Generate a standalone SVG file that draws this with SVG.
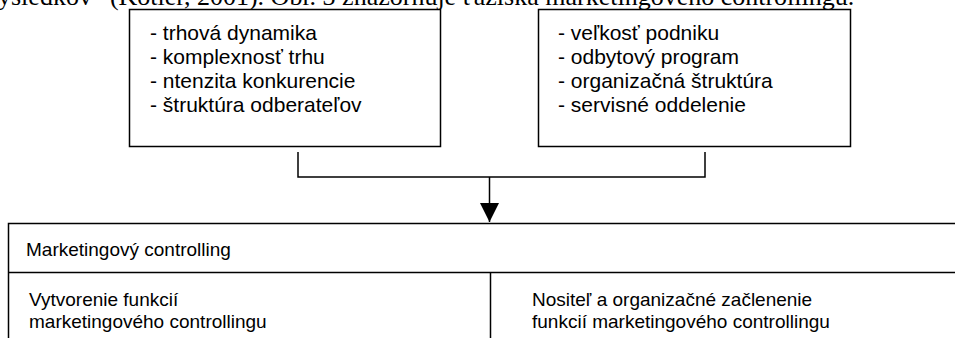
<svg xmlns="http://www.w3.org/2000/svg" width="955" height="338" viewBox="0 0 955 338">
<style>
.box{fill:#fff;stroke:#000;stroke-width:1.5}
.ln{fill:none;stroke:#000;stroke-width:1.5}
.t{font-family:"Liberation Sans",Arial,sans-serif;font-size:21px;fill:#000}
.b{font-family:"Liberation Sans",Arial,sans-serif;font-size:19px;fill:#000}
.top{font-family:"Liberation Serif","Times New Roman",serif;font-size:26px;fill:#000}
</style>
<defs>
<marker id="ah" markerWidth="20" markerHeight="19" refX="20" refY="10" orient="auto" markerUnits="userSpaceOnUse" viewBox="0 0 20 20">
<path d="M0,0 L20,10 L0,20 Z" fill="#000"/>
</marker>
</defs>
<rect width="955" height="338" fill="#fff"/>
<text class="top" x="-15" y="5">výsledkov“ (Kotler, 2001). Obr. 3 znázorňuje ťažiská marketingového controllingu.</text>
<g id="external">
<rect class="box" x="129.5" y="9.5" width="311" height="137"/>
<text class="t" x="150" y="40">- trhová dynamika</text>
<text class="t" x="150" y="64">- komplexnosť trhu</text>
<text class="t" x="150" y="88">- ntenzita konkurencie</text>
<text class="t" x="150" y="112">- štruktúra odberateľov</text>
</g>
<g id="internal">
<rect class="box" x="538.5" y="9.5" width="312" height="137"/>
<text class="t" x="558" y="40">- veľkosť podniku</text>
<text class="t" x="558" y="64">- odbytový program</text>
<text class="t" x="558" y="88">- organizačná štruktúra</text>
<text class="t" x="558" y="112">- servisné oddelenie</text>
</g>
<g id="connectors">
<path class="ln" d="M298,152 V177 H705 V152"/>
<path class="ln" d="M489.5,177 V222" marker-end="url(#ah)"/>
</g>
<g id="controlling">
<path class="ln" d="M960,223.5 H8.5 V345"/>
<path class="ln" d="M8.5,272.5 H960"/>
<path class="ln" d="M490.5,272.5 V345"/>
<text class="b" x="26" y="256">Marketingový controlling</text>
<text class="b" x="29" y="306">Vytvorenie funkcií</text>
<text class="b" x="29" y="328">marketingového controllingu</text>
<text class="b" x="532" y="306">Nositeľ a organizačné začlenenie</text>
<text class="b" x="532" y="328">funkcií marketingového controllingu</text>
</g>
</svg>
